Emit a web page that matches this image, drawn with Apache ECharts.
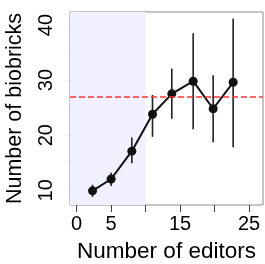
<!DOCTYPE html>
<html>
<head>
<meta charset="utf-8">
<script src="https://cdn.jsdelivr.net/npm/echarts@6/dist/echarts.min.js"></script>
<style>
	html, body { margin: 0; padding: 0; background: #fff; }
	#chart { width: 265px; height: 264px; }
</style>
</head>
<body>
<div id="chart"></div>
<script>
	// data
	const editors = [2.3, 5.0, 8.0, 11.0, 13.8, 16.9, 19.8, 22.7]
	const biobricks = [9.9, 12.05, 17.1, 23.8, 27.5, 29.8, 24.8, 29.6]
	const lowErr = [8.8, 10.8, 14.9, 19.7, 23.0, 21.1, 18.7, 17.8]
	const highErr = [11.0, 13.2, 19.6, 27.3, 32.1, 38.5, 30.9, 41.2]
	const refLine = 27
	const shadeTo = 10
	const xTicks = [0, 5, 10, 15, 20, 25]
	const xLabels = [0, 5, 15, 25]
	const yTicks = [10, 15, 20, 25, 30, 35, 40]
	const yLabels = [10, 20, 30, 40]

	const font = 'Liberation Sans, Arial, sans-serif'

	const option = {
		animation: false,
		grid: {
			left: 70,
			top: 12,
			width: 193,
			height: 193,
			show: true,
			borderColor: '#8a8a8a',
			borderWidth: 1,
			backgroundColor: 'transparent',
			outerBoundsMode: 'none'
		},
		xAxis: {
			type: 'value',
			min: -0.97,
			max: 27.03,
			name: 'Number of editors',
			nameLocation: 'middle',
			nameGap: 35,
			nameTextStyle: { fontFamily: font, fontSize: 22.5, color: '#000' },
			axisLine: { show: false },
			splitLine: { show: false },
			axisTick: {
				show: true,
				length: 7,
				lineStyle: { color: '#444', width: 1 },
				customValues: xTicks
			},
			axisLabel: {
				fontFamily: font,
				fontSize: 20,
				color: '#000',
				margin: 9,
				customValues: xLabels
			}
		},
		yAxis: {
			type: 'value',
			min: 7.33,
			max: 42.36,
			name: 'Number of biobricks',
			nameLocation: 'middle',
			nameGap: 44,
			nameTextStyle: { fontFamily: font, fontSize: 21.5, color: '#000' },
			axisLine: { show: false },
			splitLine: { show: false },
			axisTick: {
				show: true,
				length: 7,
				lineStyle: { color: '#444', width: 1 },
				customValues: yTicks
			},
			axisLabel: {
				fontFamily: font,
				fontSize: 20,
				color: '#000',
				rotate: 90,
				margin: 14,
				customValues: yLabels
			}
		},
		series: [
			{
				// shaded area, kept under the box
				type: 'line',
				z: -1,
				data: [],
				markArea: {
					silent: true,
					itemStyle: { color: '#f0f0ff' },
					data: [[{ xAxis: 'min' }, { xAxis: shadeTo }]]
				}
			},
			{
				type: 'line',
				z: 1,
				data: [],
				markLine: {
					silent: true,
					symbol: 'none',
					label: { show: false },
					lineStyle: { color: '#ff3333', width: 1.5, type: [6, 3] },
					data: [{ yAxis: refLine }]
				}
			},
			{
				// error bars
				type: 'custom',
				z: 2,
				data: editors.map((x, i) => [x, lowErr[i], highErr[i]]),
				renderItem: (params, api) => {
					const a = api.coord([api.value(0), api.value(1)])
					const b = api.coord([api.value(0), api.value(2)])
					return {
						type: 'line',
						shape: { x1: a[0], y1: a[1], x2: b[0], y2: b[1] },
						style: { stroke: '#222', lineWidth: 1.6 }
					}
				}
			},
			{
				type: 'line',
				z: 3,
				data: editors.map((x, i) => [x, biobricks[i]]),
				symbol: 'circle',
				symbolSize: 9,
				lineStyle: { color: '#111', width: 2 },
				itemStyle: { color: '#111' }
			}
		]
	}

	const chart = echarts.init(document.getElementById('chart'))
	chart.setOption(option)
</script>
</body>
</html>
